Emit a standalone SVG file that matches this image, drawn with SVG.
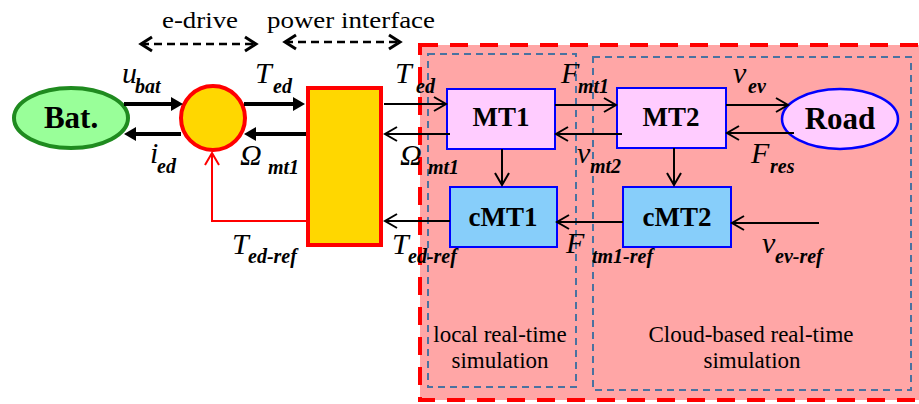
<svg xmlns="http://www.w3.org/2000/svg" width="919" height="404" viewBox="0 0 919 404">
<style>
.mt{fill:#FFCCFF;stroke:#0000FF;stroke-width:2}
.cmt{fill:#87CEFA;stroke:#0000FF;stroke-width:2}
.sub{fill:none;stroke:#4A72A0;stroke-width:2;stroke-dasharray:7 5}
</style>
<defs>
<marker id="tri" markerUnits="userSpaceOnUse" markerWidth="14" markerHeight="16" refX="2" refY="7" orient="auto" overflow="visible">
<path d="M0,0 L12,7 L0,14 z" fill="#000"/>
</marker>
<marker id="chev" markerUnits="userSpaceOnUse" markerWidth="16" markerHeight="18" refX="13" refY="8" orient="auto" overflow="visible">
<path d="M1,1 L13,8 L1,15" fill="none" stroke="#000" stroke-width="2"/>
</marker>
<marker id="chevr" markerUnits="userSpaceOnUse" markerWidth="16" markerHeight="18" refX="13" refY="8" orient="auto" overflow="visible">
<path d="M1,1 L13,8 L1,15" fill="none" stroke="#FF0000" stroke-width="2"/>
</marker>
<marker id="chev2" markerUnits="userSpaceOnUse" markerWidth="16" markerHeight="18" refX="12" refY="8" orient="auto-start-reverse" overflow="visible">
<path d="M1,1 L12,8 L1,15" fill="none" stroke="#000" stroke-width="3"/>
</marker>
</defs>

<g id="cloud-region">
<rect x="420" y="45" width="520" height="355" fill="#FFA6A6" stroke="#FF0000" stroke-width="4" stroke-dasharray="18 12"/>
</g>
<g id="local-sim">
<rect class="sub" x="428" y="54" width="148" height="333"/>
<text font-family="Liberation Serif" font-size="23" text-anchor="middle" x="500" y="342">local real-time</text>
<text font-family="Liberation Serif" font-size="23" text-anchor="middle" x="500" y="368">simulation</text>
</g>
<g id="cloud-sim">
<rect class="sub" x="593" y="57" width="318" height="333"/>
<text font-family="Liberation Serif" font-size="23" text-anchor="middle" x="751" y="342">Cloud-based real-time</text>
<text font-family="Liberation Serif" font-size="23" text-anchor="middle" x="752" y="368">simulation</text>
</g>

<g id="bat">
<ellipse cx="71" cy="118" rx="57" ry="30" fill="#99FF99" stroke="#1F8B1F" stroke-width="4"/>
<text font-family="Liberation Serif" font-size="31" font-weight="bold" text-anchor="middle" x="71" y="128">Bat.</text>
</g>
<g id="edrive">
<circle cx="213" cy="118" r="32" fill="#FFD700" stroke="#FF0000" stroke-width="4"/>
</g>
<g id="power-interface">
<rect x="308" y="88" width="73" height="157" fill="#FFD700" stroke="#FF0000" stroke-width="4"/>
</g>
<g id="MT1">
<rect class="mt" x="447" y="89" width="108" height="60"/>
<text font-family="Liberation Serif" font-size="27" font-weight="bold" text-anchor="middle" x="501" y="126">MT1</text>
</g>
<g id="MT2">
<rect class="mt" x="617" y="88" width="109" height="60"/>
<text font-family="Liberation Serif" font-size="27" font-weight="bold" text-anchor="middle" x="671" y="126">MT2</text>
</g>
<g id="Road">
<ellipse cx="840" cy="119" rx="58" ry="30" fill="#FFCCFF" stroke="#0000FF" stroke-width="2.5"/>
<text font-family="Liberation Serif" font-size="31" font-weight="bold" text-anchor="middle" x="840" y="129">Road</text>
</g>
<g id="cMT1">
<rect class="cmt" x="450" y="187" width="107" height="60"/>
<text font-family="Liberation Serif" font-size="27" font-weight="bold" text-anchor="middle" x="503" y="226">cMT1</text>
</g>
<g id="cMT2">
<rect class="cmt" x="623" y="187" width="108" height="60"/>
<text font-family="Liberation Serif" font-size="27" font-weight="bold" text-anchor="middle" x="677" y="226">cMT2</text>
</g>

<g id="connectors" fill="none">
<g stroke="#000" stroke-width="2.5" stroke-dasharray="8 5" marker-start="url(#chev2)" marker-end="url(#chev2)">
<line x1="141" y1="44" x2="256" y2="44"/>
<line x1="285" y1="42" x2="400" y2="42"/>
</g>
<g stroke="#000" stroke-width="4" marker-end="url(#tri)">
<line x1="124" y1="104" x2="173" y2="104"/>
<line x1="181" y1="134" x2="134" y2="134"/>
<line x1="244" y1="104" x2="295" y2="104"/>
<line x1="306" y1="134" x2="254" y2="134"/>
</g>
<polyline points="306,221 212,221 212,153" stroke="#FF0000" stroke-width="2" marker-end="url(#chevr)"/>
<g stroke="#000" stroke-width="2" marker-end="url(#chev)">
<line x1="384" y1="104" x2="446" y2="104"/>
<line x1="450" y1="134" x2="385" y2="134"/>
<line x1="450" y1="221" x2="385" y2="221"/>
<line x1="555" y1="105" x2="616" y2="105"/>
<line x1="622" y1="134" x2="556" y2="134"/>
<line x1="726" y1="105" x2="788" y2="105"/>
<line x1="794" y1="133" x2="727" y2="133"/>
<line x1="502" y1="149" x2="502" y2="185"/>
<line x1="674" y1="148" x2="674" y2="185"/>
<line x1="623" y1="222" x2="557" y2="222"/>
<line x1="819" y1="223" x2="732" y2="223"/>
</g>
</g>

<g id="labels">
<text font-family="Liberation Serif" font-size="24" x="162" y="28" textLength="76" lengthAdjust="spacingAndGlyphs">e-drive</text>
<text font-family="Liberation Serif" font-size="24" x="267" y="28" textLength="168" lengthAdjust="spacingAndGlyphs">power interface</text>

<text font-family="Liberation Serif" font-size="30" font-style="italic" x="122" y="83">u</text><text font-family="Liberation Serif" font-size="20" font-style="italic" font-weight="bold" x="135" y="93">bat</text>
<text font-family="Liberation Serif" font-size="30" font-style="italic" x="150" y="163">i</text><text font-family="Liberation Serif" font-size="20" font-style="italic" font-weight="bold" x="157" y="173">ed</text>
<text font-family="Liberation Serif" font-size="30" font-style="italic" x="255" y="83">T</text><text font-family="Liberation Serif" font-size="20" font-style="italic" font-weight="bold" x="273" y="93">ed</text>
<text font-family="Liberation Serif" font-size="30" font-style="italic" x="240" y="165">Ω</text><text font-family="Liberation Serif" font-size="20" font-style="italic" font-weight="bold" x="268" y="174">mt1</text>
<text font-family="Liberation Serif" font-size="30" font-style="italic" x="232" y="254">T</text><text font-family="Liberation Serif" font-size="20" font-style="italic" font-weight="bold" x="248" y="263">ed-ref</text>
<text font-family="Liberation Serif" font-size="30" font-style="italic" x="395" y="83">T</text><text font-family="Liberation Serif" font-size="20" font-style="italic" font-weight="bold" x="416" y="93">ed</text>
<text font-family="Liberation Serif" font-size="30" font-style="italic" x="400" y="165">Ω</text><text font-family="Liberation Serif" font-size="20" font-style="italic" font-weight="bold" x="428" y="174">mt1</text>
<text font-family="Liberation Serif" font-size="30" font-style="italic" x="392" y="254">T</text><text font-family="Liberation Serif" font-size="20" font-style="italic" font-weight="bold" x="408" y="263">ed-ref</text>
<text font-family="Liberation Serif" font-size="30" font-style="italic" x="561" y="83">F</text><text font-family="Liberation Serif" font-size="20" font-style="italic" font-weight="bold" x="578" y="93">mt1</text>
<text font-family="Liberation Serif" font-size="30" font-style="italic" x="577" y="163">v</text><text font-family="Liberation Serif" font-size="20" font-style="italic" font-weight="bold" x="590" y="173">mt2</text>
<text font-family="Liberation Serif" font-size="30" font-style="italic" x="733" y="83">v</text><text font-family="Liberation Serif" font-size="20" font-style="italic" font-weight="bold" x="748" y="93">ev</text>
<text font-family="Liberation Serif" font-size="30" font-style="italic" x="751" y="163">F</text><text font-family="Liberation Serif" font-size="20" font-style="italic" font-weight="bold" x="770" y="173">res</text>
<text font-family="Liberation Serif" font-size="30" font-style="italic" x="566" y="253">F</text><text font-family="Liberation Serif" font-size="20" font-style="italic" font-weight="bold" x="592" y="263">tm1-ref</text>
<text font-family="Liberation Serif" font-size="30" font-style="italic" x="762" y="253">v</text><text font-family="Liberation Serif" font-size="20" font-style="italic" font-weight="bold" x="775" y="263">ev-ref</text>
</g>
</svg>
